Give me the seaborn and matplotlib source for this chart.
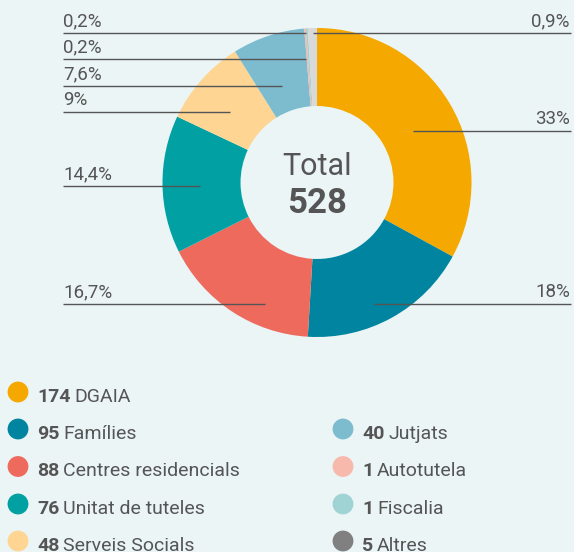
import matplotlib
matplotlib.use("Agg")
import matplotlib.pyplot as plt
import seaborn as sns
import pandas as pd

# %% Data
categories = ["DGAIA", "Famílies", "Centres residencials", "Unitat de tuteles", "Serveis Socials",
              "Jutjats", "Autotutela", "Fiscalia", "Altres"]
counts = [174, 95, 88, 76, 48, 40, 1, 1, 5]
pct_labels = ["33%", "18%", "16,7%", "14,4%", "9%", "7,6%", "0,2%", "0,2%", "0,9%"]
total_label = "528"

# %% Styles / layout
pie_colors = ["#F5A800", "#00849F", "#EE6A5D", "#00A0A3", "#FED592",
              "#7DBCCF", "#F7B9AC", "#A0D3D4", "#D9D9D9"]
legend_colors = pie_colors[:-1] + ["#808080"]
BG = "#EBF5F6"
TXT = "#555555"
W, H = 574, 552
CX, CY, R = 317, 182.5, 154.5
# leader lines: (side, line_y, inner x end)
label_layout = [("right", 131, 413), ("right", 304, 374), ("left", 304, 265), ("left", 186, 200),
                ("left", 112, 230), ("left", 86, 282), ("left", 59, 306), ("left", 33, 306),
                ("right", 33, 313)]
# legend: (column x of dot, row y)
legend_layout = [(18, 392), (18, 429), (18, 466.5), (18, 504), (18, 541),
                 (343, 429), (343, 466.5), (343, 504), (343, 541)]

sns.set_theme(style="white")
plt.rcParams["font.family"] = ["Roboto", "DejaVu Sans"]

fig = plt.figure(figsize=(W / 100, H / 100), dpi=100, facecolor=BG)

# %% Donut
ax_pie = fig.add_axes([(CX - R) / W, (H - CY - R) / H, 2 * R / W, 2 * R / H])
ax_pie.pie(counts, colors=pie_colors, startangle=90, counterclock=False, radius=1,
           wedgeprops=dict(width=0.505, edgecolor="none", linewidth=0))
ax_pie.set_xlim(-1, 1)
ax_pie.set_ylim(-1, 1)
ax_pie.set_aspect("auto")
ax_pie.axis("off")

# %% Overlay in pixel coordinates
ov = fig.add_axes([0, 0, 1, 1], zorder=5)
ov.set_xlim(0, W)
ov.set_ylim(H, 0)
ov.axis("off")
ov.patch.set_alpha(0)

for lab, (side, ly, xend) in zip(pct_labels, label_layout):
    if side == "left":
        ov.plot([63, xend], [ly, ly], color=TXT, lw=1.0, solid_capstyle="butt")
        ov.text(63, ly - 7, lab, ha="left", va="baseline", fontsize=13.5, color=TXT)
    else:
        ov.plot([xend, 571], [ly, ly], color=TXT, lw=1.0, solid_capstyle="butt")
        ov.text(570, ly - 7, lab, ha="right", va="baseline", fontsize=13.5, color=TXT)

ov.text(CX, 175, "Total", ha="center", va="baseline", fontsize=22, color=TXT)
ov.text(CX, 213, total_label, ha="center", va="baseline", fontsize=25, color=TXT, fontweight="bold")

# %% Legend
leg_df = pd.DataFrame({"x": [p[0] for p in legend_layout], "y": [p[1] for p in legend_layout],
                       "cat": categories})
sns.scatterplot(data=leg_df, x="x", y="y", hue="cat", palette=legend_colors, s=225,
                edgecolor="none", legend=False, ax=ov)
ov.set_xlim(0, W)
ov.set_ylim(H, 0)
ov.axis("off")

fig.canvas.draw()
renderer = fig.canvas.get_renderer()
for n, cat, (x, y) in zip(counts, categories, legend_layout):
    t = ov.text(x + 19, y + 10, str(n), ha="left", va="baseline", fontsize=14, color=TXT, fontweight="bold")
    bb = t.get_window_extent(renderer=renderer)
    x_end = ov.transData.inverted().transform((bb.x1, bb.y0))[0]
    ov.text(x_end + 4, y + 10, cat, ha="left", va="baseline", fontsize=14, color=TXT)

fig.savefig("out.png", dpi=100, facecolor=BG)
